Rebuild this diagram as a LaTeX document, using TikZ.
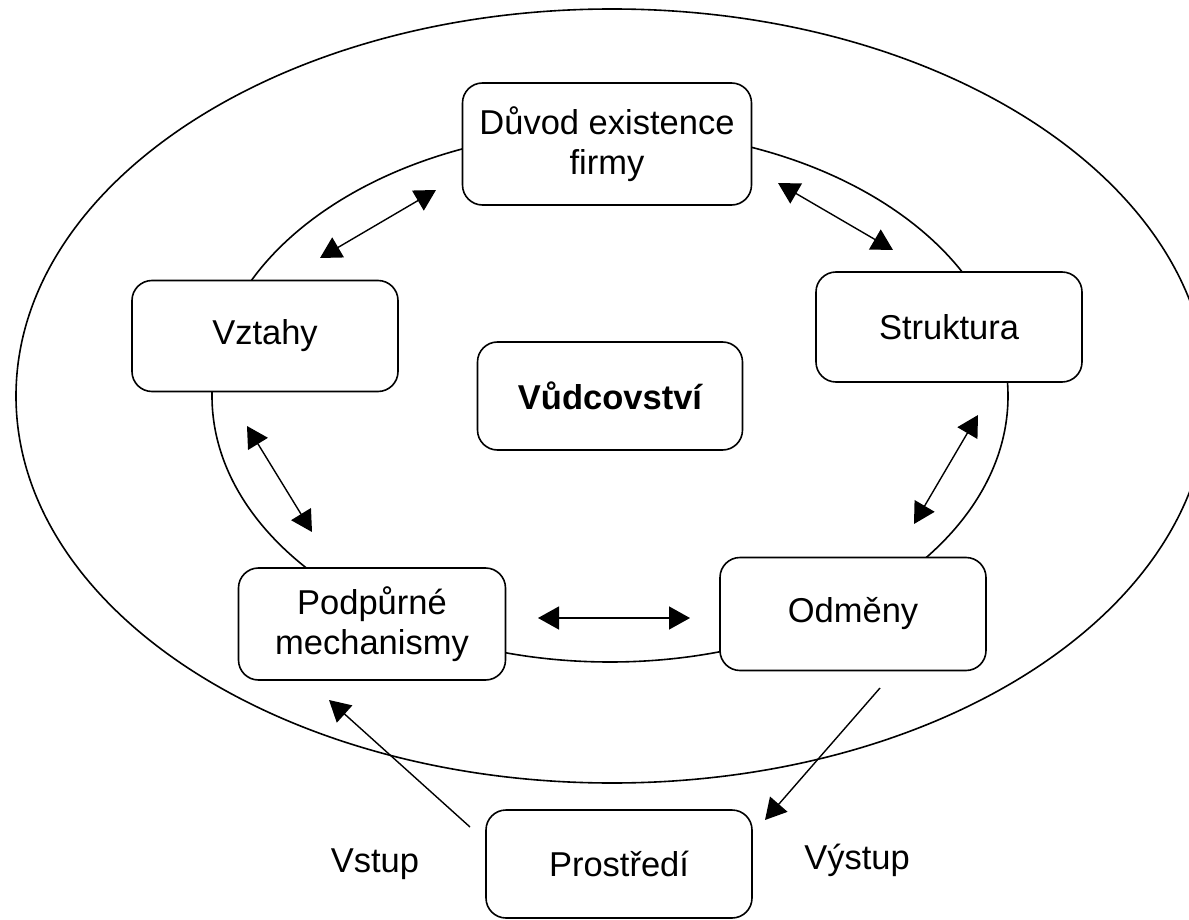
\documentclass[tikz,border=0pt]{standalone}
\usepackage{fontspec}
\setmainfont{Liberation Sans}
\usetikzlibrary{arrows.meta}
\begin{document}
\begin{tikzpicture}[x=1pt,y=-1pt,
  txt/.style={font=\fontsize{34.5}{40}\selectfont},
  box/.style={txt, draw, line width=1.6pt, rounded corners=20pt, fill=white, align=center, inner sep=0pt},
  ring/.style={line width=1.6pt},
  dbl/.style={line width=1.4pt, {Triangle[length=21pt,width=23pt]}-{Triangle[length=21pt,width=23pt]}},
  one/.style={line width=1.4pt, -{Triangle[length=21pt,width=23pt]}}]
\useasboundingbox (0,0) rectangle (1189,920);
\clip (0,0) rectangle (1189,920);
% outer ellipse and inner ring
\draw[ring] (612,396) ellipse [x radius=596, y radius=387];
\draw[ring] (610,396) ellipse [x radius=398, y radius=266];
% boxes
\node[box, minimum width=289pt, minimum height=122pt] (duvod) at (607,144) {Důvod existence\\firmy};
\node[box, minimum width=266pt, minimum height=111pt] (vztahy) at (265,336) {Vztahy};
\node[box, minimum width=266pt, minimum height=110pt] (struktura) at (949,327) {Struktura};
\node[box, minimum width=266pt, minimum height=113pt] (odmeny) at (853,614) {Odměny};
\node[box, minimum width=267pt, minimum height=112pt] (podpurne) at (372,624) {Podpůrné\\mechanismy};
\node[box, minimum width=265pt, minimum height=108pt, font=\fontsize{34.5}{40}\selectfont\bfseries] (vudce) at (610,396) {Vůdcovství};
\node[box, minimum width=266pt, minimum height=108pt] (prostredi) at (619,864) {Prostředí};
% labels
\node[txt] (vstup) at (375,864) {Vstup};
\node[txt] (vystup) at (857,860) {Výstup};
% arrow end points
\coordinate (a1) at (320,258); \coordinate (a2) at (436,190);
\coordinate (b1) at (778,183); \coordinate (b2) at (893,250);
\coordinate (c1) at (247,426); \coordinate (c2) at (312,532);
\coordinate (d1) at (978,415); \coordinate (d2) at (914,524);
\coordinate (e1) at (538,618); \coordinate (e2) at (690,618);
\coordinate (in1) at (470,827); \coordinate (in2) at (329,700);
\coordinate (out1) at (880,688); \coordinate (out2) at (765,820);
% arrows
\draw[dbl] (a1) -- (a2);
\draw[dbl] (b1) -- (b2);
\draw[dbl] (c1) -- (c2);
\draw[dbl] (d1) -- (d2);
\draw[dbl] (e1) -- (e2);
\draw[one] (in1) -- (in2);
\draw[one] (out1) -- (out2);
\end{tikzpicture}
\end{document}
